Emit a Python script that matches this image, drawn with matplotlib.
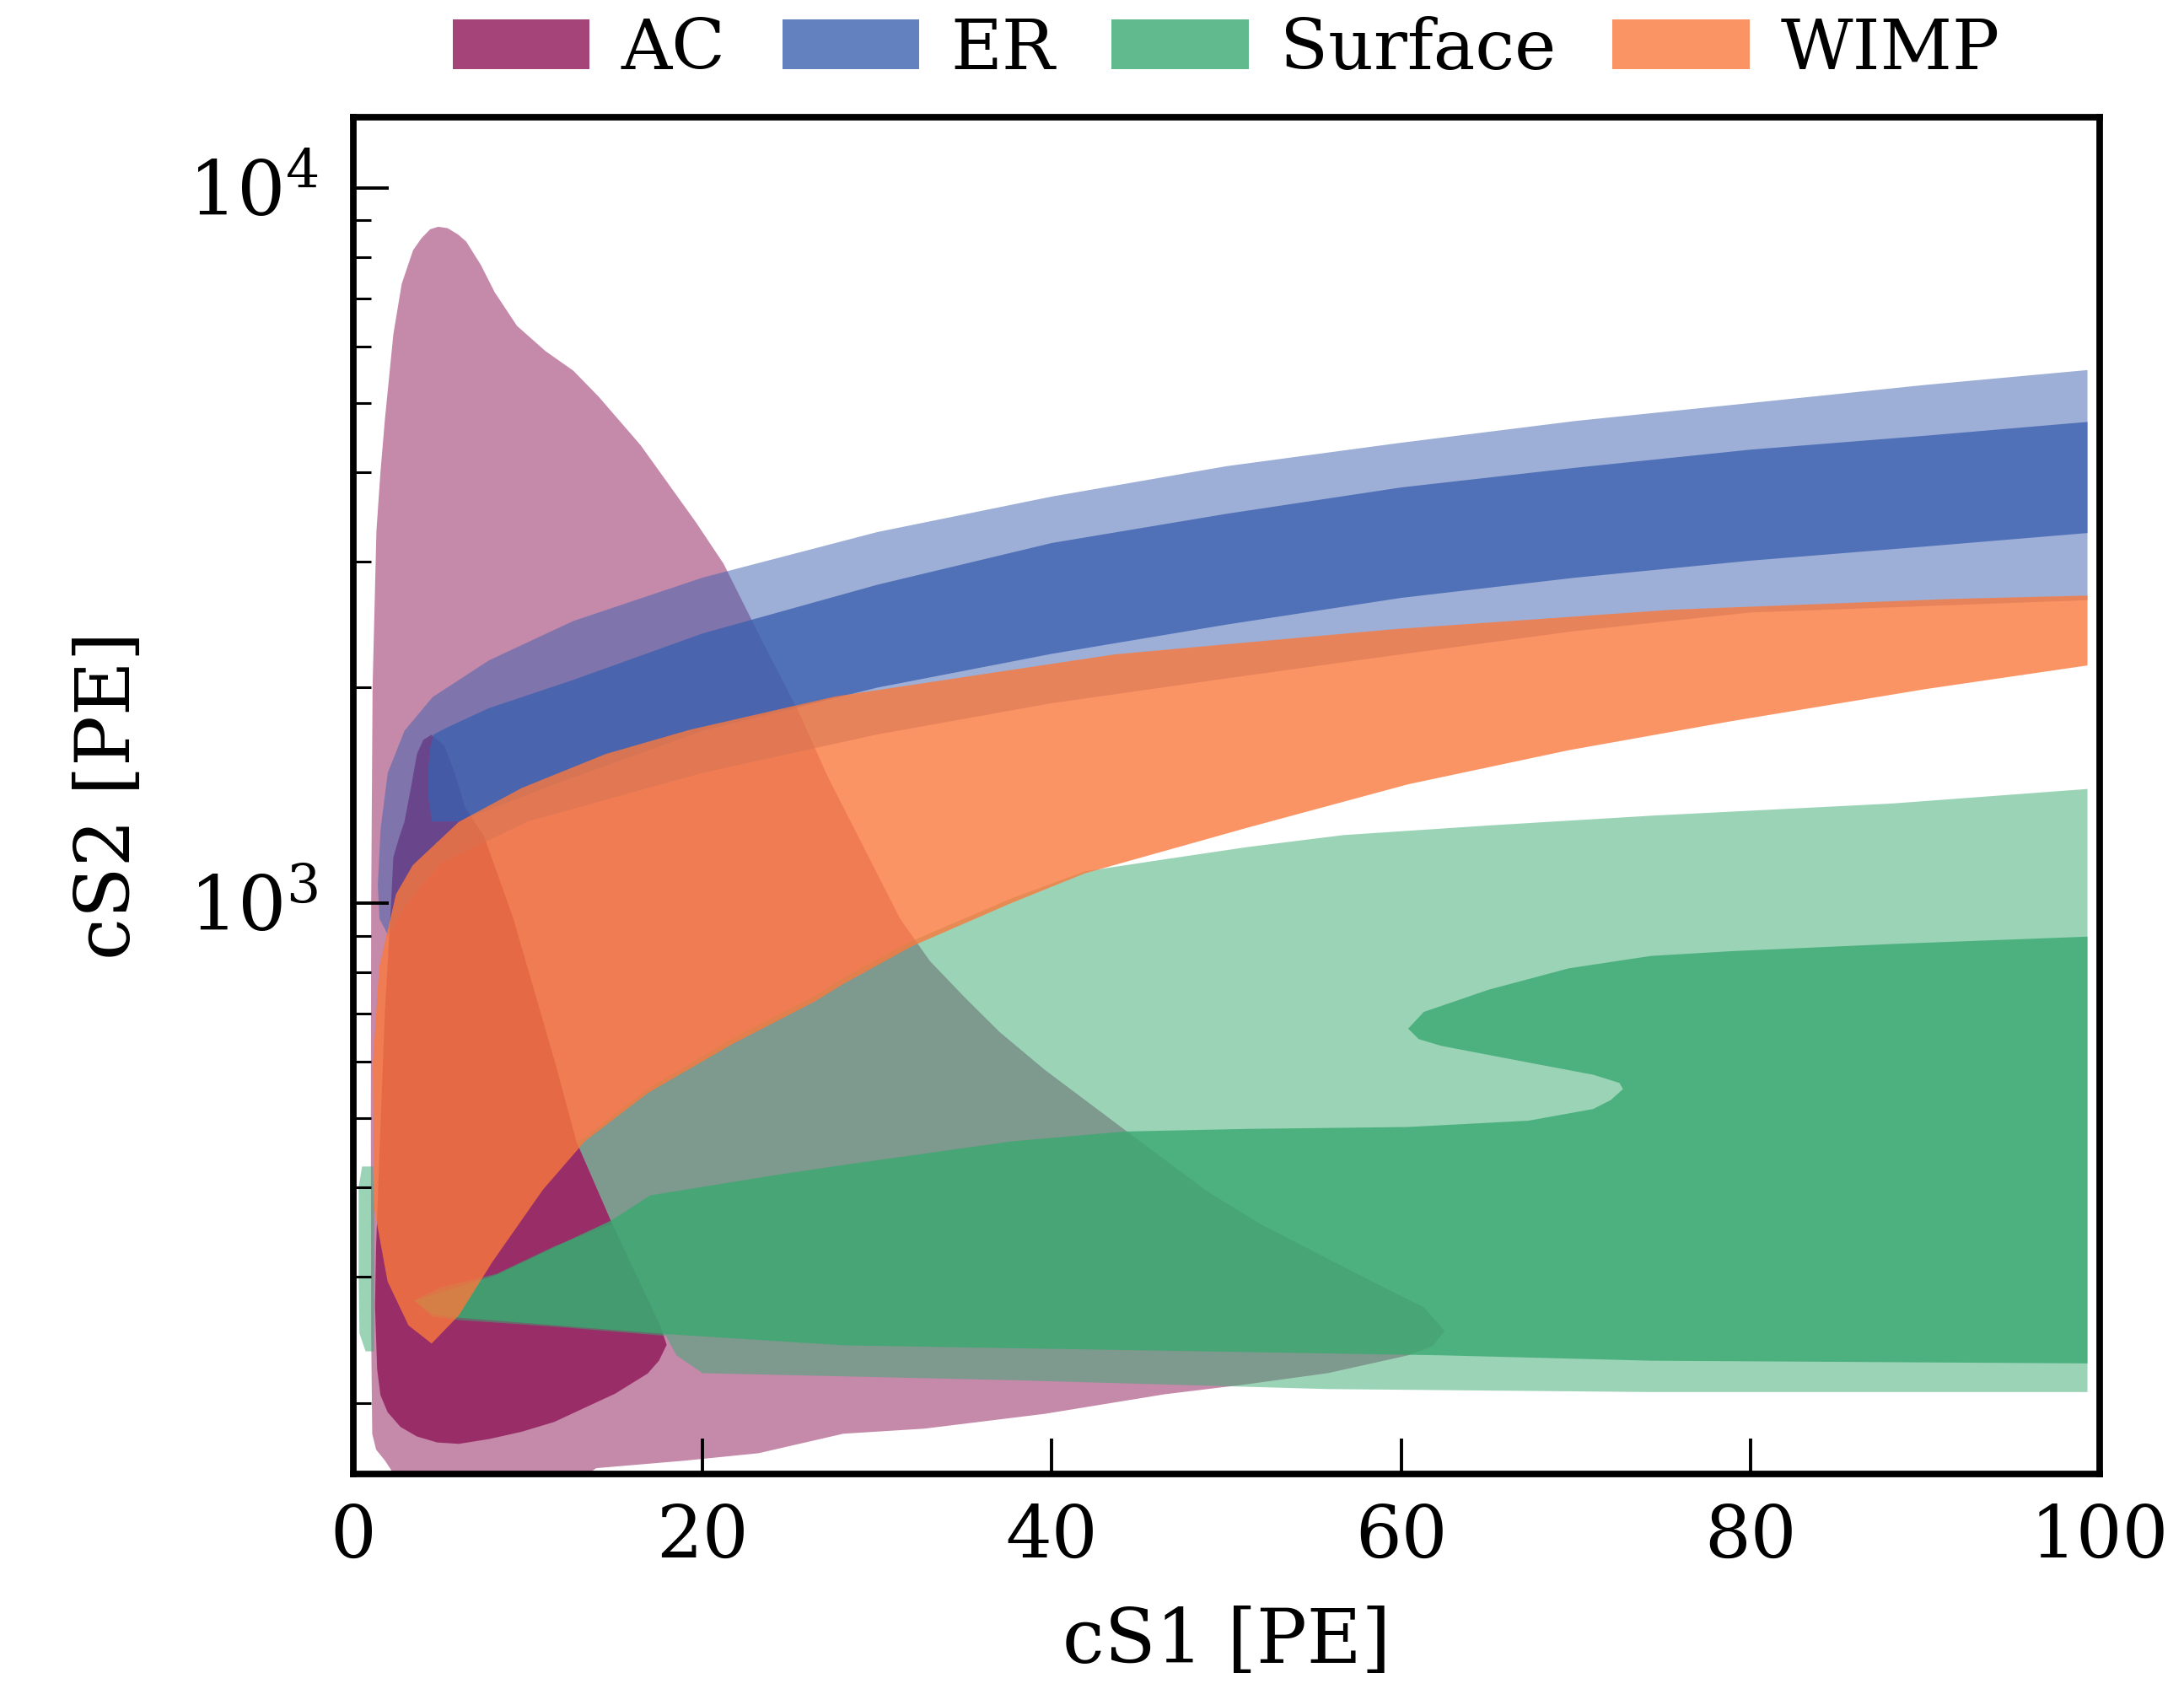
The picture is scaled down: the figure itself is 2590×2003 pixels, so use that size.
import numpy as np
import matplotlib
matplotlib.use("Agg")
import matplotlib.pyplot as plt
from matplotlib.patches import Patch
from matplotlib.ticker import LogLocator, NullFormatter

plt.rcParams["font.family"] = "DejaVu Serif"
plt.rcParams["mathtext.fontset"] = "dejavuserif"

# ---- contour outlines (cS1 [PE], cS2 [PE]) ----
AC_OUTER_X = [4.86, 5.4, 6.0, 6.46, 7.3, 8.09, 9.37, 10.99, 12.59, 14.04, 16.45, 19.6, 21.2, 23.5, 25.5, 27.2,
              28.9, 31.3, 33.0, 35.0, 37.0, 39.6, 44.2, 48.9, 52.0, 55.8, 59.0, 61.3, 62.5, 61.8, 60.4,
              55.8, 51.0, 46.5, 39.6, 32.7, 28.05, 23.2, 19.0, 13.9, 12.0, 3.0, 1.81, 1.3, 1.08, 1.02,
              1.0, 1.02, 1.1, 1.32, 1.55, 1.81, 2.29, 2.77, 3.42, 3.9, 4.4]
AC_OUTER_Y = [8820, 8780, 8600, 8410, 7800, 7145, 6410, 5913, 5550, 5105, 4365, 3410, 2980, 2300, 1850, 1495,
              1240, 951, 830, 738, 660, 584, 481, 395, 355, 318, 290, 272, 252, 240, 233,
              220, 212, 205.6, 193, 184, 181, 170, 166, 162, 150, 150, 166, 172, 181, 250,
              500, 1000, 2000, 3311, 4000, 4755, 6240, 7340, 8180, 8500, 8750]

AC_INNER_X = [4.47, 5.2, 5.8, 6.4, 7.48, 9.16, 10.37, 11.57, 12.77, 13.73, 14.82, 16.38, 17.57, 17.94,
              17.5, 16.85, 15.0, 13.25, 11.5, 9.65, 7.8, 6.04, 4.8, 3.64, 2.7, 1.96, 1.55, 1.36, 1.24,
              1.3, 1.5, 1.8, 2.13, 2.29, 2.6, 2.92, 3.3, 3.64, 4.0]
AC_INNER_Y = [1718, 1660, 1520, 1360, 1240, 951, 752, 596, 464, 410, 356, 295.5, 256.5, 241,
              229, 219.7, 206, 196.8, 188, 182.2, 178, 175.2, 176, 179.4, 185, 194, 205, 223, 273,
              330, 450, 700, 968, 1159, 1230, 1298, 1450, 1615, 1690]

ER_OUTER_X = [1.40, 1.56, 1.97, 2.93, 4.54, 7.76, 12.59, 20, 30, 40, 50, 60, 70, 80, 90, 99.3,
              99.3, 90, 80, 70, 60, 50, 40, 30, 20, 10, 5, 3, 2, 1.5]
ER_OUTER_Y = [1058, 1269, 1520, 1741, 1940, 2183, 2478, 2850, 3300, 3700, 4080, 4400, 4720, 5000, 5300, 5560,
              2650, 2600, 2547, 2400, 2226, 2060, 1902, 1720, 1520, 1300, 1136, 993, 900, 950]

ER_INNER_X = [4.4, 4.6, 5.35, 7.76, 12.59, 20, 30, 40, 50, 60, 70, 80, 90, 99.3,
              99.3, 90, 80, 70, 60, 50, 40, 30, 20, 12, 6, 4.5, 4.3, 4.3]
ER_INNER_Y = [1650, 1720, 1758, 1872, 2050, 2381, 2785, 3186, 3500, 3810, 4060, 4303, 4500, 4705,
              3290, 3150, 3010, 2850, 2670, 2450, 2230, 2000, 1740, 1480, 1300, 1300, 1400, 1550]

# surface outer level: main body plus the thin piece at the left edge
SURF_OUTER_X = [3.5, 5.0, 8.2, 11.5, 14.82, 13.73, 12.77, 13.25, 16.86, 21.67, 26.47, 28.05, 32.0, 37.7,
                41.9, 46.5, 51.2, 56.7, 65.0, 74.3, 88.1, 99.3,
                99.3, 74.3, 55.8, 38, 20, 18.5, 17.9, 12.0, 6.04, 4.5]
SURF_OUTER_Y = [278, 290, 303, 331, 356, 410, 464, 470, 550, 645, 742, 785, 885, 1015,
                1107, 1151, 1197, 1244, 1283, 1324, 1377, 1443,
                207, 207, 209, 215, 220, 233, 248, 255, 261, 264]
SURF_EDGE_X = [0.35, 0.3, 0.3, 0.5, 1.12, 1.2, 1.18, 0.7]
SURF_EDGE_Y = [250, 300, 400, 428, 428, 373, 236, 236]

SURF_INNER_X = [99.3, 88.1, 78.9, 74.3, 69.6, 65.0, 61.3, 60.4, 61.0, 62.3, 67.3, 71.0, 72.5, 72.7, 72.0,
                71.0, 67.3, 60.4, 51.2, 44.2, 37.7, 28.05, 24.1, 17, 14.8, 11.5, 8.2, 5, 3.5, 4.5, 6.04,
                17.9, 28.05, 62.3, 74.3, 99.3]
SURF_INNER_Y = [897, 876, 856, 843, 810, 756, 704, 667, 645, 631, 598, 575, 560, 549, 530,
                515, 496, 486, 483, 479, 464, 430, 416, 390, 360, 330, 302, 285, 278, 266, 263,
                249.5, 240.6, 233, 229, 227]

WIMP_X = [4.48, 6.04, 7.97, 10.85, 13.25, 16.86, 21.67, 26.47, 28.05, 32.0, 37.7, 41.9, 51.2, 60.4, 69.6,
          78.9, 90, 99.3, 99.3, 91.5, 75.5, 59.5, 43.6, 27.6, 19.26, 14.45, 9.65, 6.04, 3.4, 2.44,
          1.48, 1.12, 1.2, 1.96, 3.16]
WIMP_Y = [242, 265, 315, 397, 464, 542, 634, 729, 770, 870, 1000, 1100, 1274, 1465, 1635,
          1795, 1990, 2148, 2690, 2661, 2570, 2413, 2226, 1944, 1746, 1615, 1448, 1298, 1129, 1028,
          813, 596, 373, 295.5, 256.5]

LABELS = ["AC", "ER", "Surface", "WIMP"]
COLORS = ["#8d1557", "#3c60af", "#39a971", "#fb793d"]

fig = plt.figure(figsize=(12.95, 10.015), dpi=200)
ax = fig.add_axes([0.1618, 0.1273, 0.7996, 0.8033])

# outer level light, inner level stacked on top of it
ax.fill(AC_OUTER_X, AC_OUTER_Y, color=COLORS[0], alpha=0.5, lw=0)
ax.fill(AC_INNER_X, AC_INNER_Y, color=COLORS[0], alpha=0.79, lw=0)
ax.fill(ER_OUTER_X, ER_OUTER_Y, color=COLORS[1], alpha=0.5, lw=0)
ax.fill(ER_INNER_X, ER_INNER_Y, color=COLORS[1], alpha=0.79, lw=0)
ax.fill(SURF_OUTER_X, SURF_OUTER_Y, SURF_EDGE_X, SURF_EDGE_Y, color=COLORS[2], alpha=0.5, lw=0)
ax.fill(SURF_INNER_X, SURF_INNER_Y, color=COLORS[2], alpha=0.79, lw=0)
ax.fill(WIMP_X, WIMP_Y, color=COLORS[3], alpha=0.8, lw=0)

ax.set_yscale("log")
ax.set_xlim(0, 100)
ax.set_ylim(159, 12550)
ax.set_xticks([0, 20, 40, 60, 80, 100])
ax.yaxis.set_minor_locator(LogLocator(base=10, subs=np.arange(2, 10)))
ax.yaxis.set_minor_formatter(NullFormatter())
ax.tick_params(which="both", direction="in", top=False, right=False)
ax.tick_params(which="major", length=15, width=1.4, labelsize=31, pad=12)
ax.tick_params(axis="y", which="major", labelsize=32.5, pad=15)
ax.tick_params(which="minor", length=7.5, width=1.1)
for s in ax.spines.values():
    s.set_linewidth(2.8)

ax.set_xlabel("cS1 [PE]", fontsize=32, labelpad=14)
ax.set_ylabel("cS2 [PE]", fontsize=32, labelpad=18)

handles = [Patch(facecolor=c, alpha=0.8, lw=0) for c in COLORS]
ax.legend(handles, LABELS, loc="center", bbox_to_anchor=(0.5, 1.05), ncol=4, frameon=False,
          fontsize=30, handlelength=1.95, handleheight=0.7, handletextpad=0.45,
          columnspacing=0.8, borderaxespad=0)

fig.savefig("out.png", dpi=200)
